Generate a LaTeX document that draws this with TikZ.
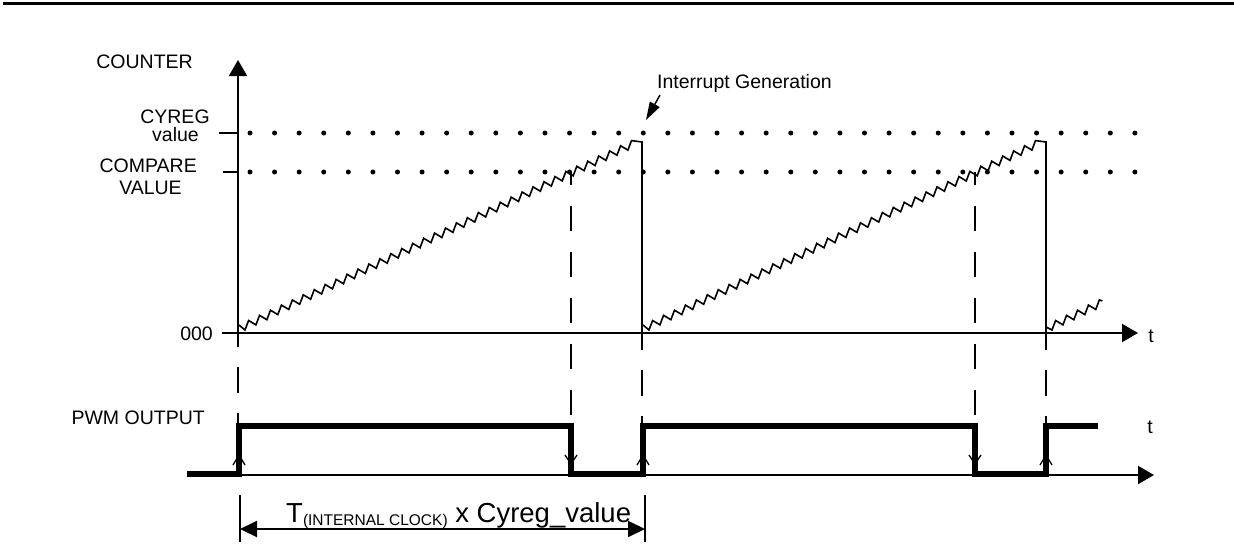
\documentclass[tikz,border=0pt]{standalone}
\usepackage{fontspec}
\setmainfont{Liberation Sans}
\usetikzlibrary{arrows.meta}
\begin{document}
\begin{tikzpicture}[x=1pt,y=-1pt,
  lbl/.style={inner sep=0pt, font=\fontsize{19.5}{22}\selectfont},
  axis/.style={line width=2pt},
  saw/.style={line width=1.6pt, line join=miter},
  drop/.style={line width=2pt},
  pwm/.style={line width=6pt, line join=miter},
  dashrise/.style={line width=2pt, dash pattern=on 26pt off 20pt, dash phase=26pt},
  dashfall/.style={line width=2pt, dash pattern=on 25pt off 21pt, dash phase=12pt},
  edgemark/.style={line width=1.3pt},
  bigtip/.style={-{Triangle[length=16pt,width=18pt]}},
  meas/.style={line width=2pt, {Triangle[length=17pt,width=16pt]}-{Triangle[length=17pt,width=16pt]}}
]
\useasboundingbox (0,0) rectangle (1234,557);
\fill[white] (0,0) rectangle (1234,557);

% top rule
\draw[line width=3pt] (3,3.5) -- (1234,3.5);

% dotted reference levels
\foreach \i in {0,...,36} {
  \fill ({250+24.58*\i},133) circle (2.5pt);
  \fill ({250+24.58*\i},172) circle (2.5pt);
}

% counter axes
\coordinate (yaxbot) at (238,347);
\coordinate (yaxtop) at (238,60);
\draw[axis,bigtip] (yaxbot) -- (yaxtop);
\coordinate (taxl) at (222,333);
\coordinate (taxr) at (1138,333);
\draw[axis,bigtip] (taxl) -- (taxr);
\draw[axis] (219,133) -- (238,133);
\draw[axis] (223,172) -- (238,172);

% sawtooth ramps
\foreach \s in {0,404} {
  \begin{scope}[shift={(\s,0)}]
    \draw[saw] (239,325) -- (245,330)
      \foreach \i in {1,...,35} { -- ++(3.6,-9.5) -- ++(7.34,4.36) }
      -- ++(3.6,-9.5) -- (642,142);
    \draw[drop] (642,141) -- (642,350);
    % dashed guides
    \draw[dashfall] (571,172) -- (571,426);
  \end{scope}
}
\draw[saw] (1046,327) -- (1052,330)
  \foreach \i in {1,...,4} { -- ++(3.6,-9.5) -- ++(7.34,4.36) }
  -- ++(3.6,-9.5) -- ++(3,1);

\draw[dashrise] (238,347) -- (238,426);
\draw[dashrise] (642,350) -- (642,426);
\draw[dashrise] (1046,350) -- (1046,426);

% PWM axis and signal
\draw[axis,bigtip] (239,475) -- (1154,475);
\draw[pwm] (187,474) -- (239,474) -- (239,426) -- (571,426) -- (571,474)
  -- (643,474) -- (643,426) -- (975,426) -- (975,474) -- (1046,474)
  -- (1046,426) -- (1098,426);

% edge direction marks
\foreach \x in {239,643,1046} {
  \draw[edgemark] (\x-6,465) -- (\x,455) -- (\x+6,465);
}
\foreach \x in {571,975} {
  \draw[edgemark] (\x-6,455) -- (\x,464) -- (\x+6,455);
}

% measurement
\coordinate (ml) at (240,529);
\coordinate (mr) at (645,529);
\draw[line width=1.5pt] (240,495) -- (240,542);
\draw[line width=1.5pt] (645,495) -- (645,542);
\draw[meas] (ml) -- (mr);
\node[inner sep=0pt, anchor=base west] (tlab) at (286,522)
  {\fontsize{27.5}{30}\selectfont T\raisebox{-3pt}{\fontsize{15.5}{17}\selectfont (INTERNAL CLOCK)} x Cyreg\_value};

% labels
\node[lbl, anchor=base east] (counter) at (193,68) {COUNTER};
\node[lbl, anchor=base] (cyreg) at (175,123.5) {CYREG};
\node[lbl, anchor=base] (cyregv) at (175.5,141) {value};
\node[lbl, anchor=base east] (compare) at (197,172) {COMPARE};
\node[lbl, anchor=base] (comparev) at (150.5,194) {VALUE};
\node[lbl, anchor=base east] (zero) at (213,340) {000};
\node[lbl, anchor=base east] (pwmlab) at (205,424) {PWM OUTPUT};
\node[lbl, anchor=base] (t1) at (1151,342) {t};
\node[lbl, anchor=base] (t2) at (1150,433) {t};
\node[lbl, anchor=base west] (intr) at (657,88) {Interrupt Generation};
\coordinate (intrtip) at (646,120);
\draw[line width=1.5pt, -{Triangle[length=18pt,width=11pt]}] (660,95) -- (intrtip);
\end{tikzpicture}
\end{document}
